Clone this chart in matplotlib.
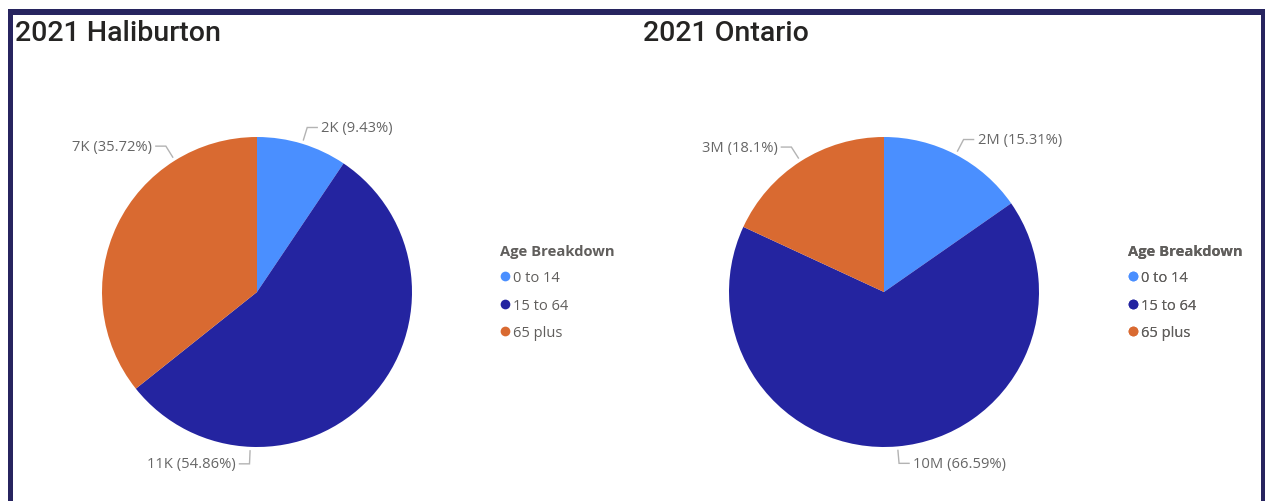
import numpy as np
import matplotlib.pyplot as plt
from matplotlib.patches import Rectangle
from matplotlib.lines import Line2D

W, H = 1265, 502

# age groups and shares (%) per region
age_groups = ['0 to 14', '15 to 64', '65 plus']
colors = ['#4A8FFF', '#2424A0', '#D96A31']

haliburton_pct = [9.43, 54.86, 35.72]
haliburton_vals = ['2K', '11K', '7K']
ontario_pct = [15.31, 66.59, 18.1]
ontario_vals = ['2M', '10M', '3M']

label_color = '#666666'
frame_color = '#27245F'

plt.rcParams['font.family'] = ['Open Sans', 'DejaVu Sans']

fig = plt.figure(figsize=(W / 100, H / 100), dpi=100)
ax = fig.add_axes([0, 0, 1, 1])


def fx(x):
    return x / W


def fy(y):
    # y measured from the top edge in pixels
    return 1 - y / H


def mid_angles(pct):
    total = sum(pct)
    out, start = [], 90.0
    for p in pct:
        span = 360.0 * p / total
        out.append(start - span / 2)
        start -= span
    return out


def draw_pie(cx, cy, r, pct, vals, leader_angles):
    cy = H - cy
    ax.pie(pct, colors=colors, startangle=90, counterclock=False,
           center=(cx, cy), radius=r, frame=True,
           wedgeprops=dict(linewidth=0))
    for val, p, ang in zip(vals, pct, leader_angles):
        a = np.deg2rad(ang)
        x0, y0 = cx + (r + 4) * np.cos(a), cy + (r + 4) * np.sin(a)
        x1, y1 = cx + (r + 17) * np.cos(a), cy + (r + 17) * np.sin(a)
        side = 1 if np.cos(a) >= 0 else -1
        x2 = x1 + side * 10
        ax.plot([x0, x1, x2], [y0, y1, y1], color='#B3B3B3', lw=1,
                solid_joinstyle='miter')
        ax.text(x2 + side * 4, y1, f'{val} ({p:g}%)', color=label_color,
                fontsize=10.6, va='center', ha='left' if side > 0 else 'right')


def draw_legend(x, y):
    handles = [Line2D([], [], marker='o', linestyle='', markersize=7,
                      markerfacecolor=c, markeredgewidth=0) for c in colors]
    leg = ax.legend(handles, age_groups, title='Age Breakdown',
                    loc='upper left', bbox_to_anchor=(fx(x), fy(y)),
                    bbox_transform=fig.transFigure, frameon=False,
                    alignment='left', handlelength=0.7, handletextpad=0.2,
                    labelspacing=0.85, borderpad=0, borderaxespad=0,
                    prop={'size': 10.5},
                    title_fontproperties={'size': 10.6, 'weight': 'bold'})
    for t in leg.get_texts():
        t.set_color('#605E5C')
    leg.get_title().set_color('#605E5C')
    ax.add_artist(leg)


hal_angles = mid_angles(haliburton_pct)
hal_angles[1] = -92.5
hal_angles[2] = 122.0
draw_pie(257, 293, 155, haliburton_pct, haliburton_vals, hal_angles)
draw_pie(884, 293, 155, ontario_pct, ontario_vals, mid_angles(ontario_pct))

draw_legend(500, 245)
draw_legend(1128, 245)

ax.set_xlim(0, W)
ax.set_ylim(0, H)
ax.set_aspect('equal')
ax.axis('off')

# titles
fig.text(fx(15), fy(41), '2021 Haliburton', fontsize=20.5, family='Roboto',
         weight='medium', color='#252423', va='baseline')
fig.text(fx(643), fy(41), '2021 Ontario', fontsize=20.5, family='Roboto',
         weight='medium', color='#252423', va='baseline')

# dark frame around the report page
for x0, y0, w, h in [(8, 10, 5, 492), (8, 10, 1256, 6), (1261, 10, 4, 492)]:
    fig.add_artist(Rectangle((fx(x0), fy(y0 + h)), w / W, h / H,
                             transform=fig.transFigure, color=frame_color,
                             lw=0))

fig.savefig('out.png', dpi=100)
